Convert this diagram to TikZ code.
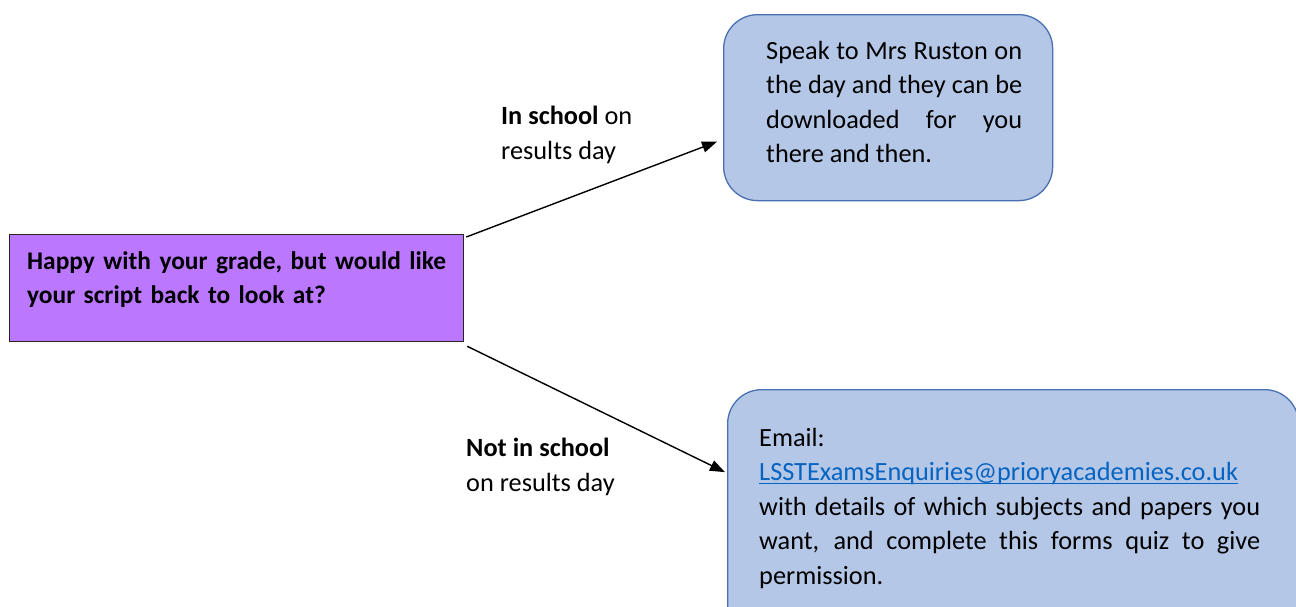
\documentclass[tikz,border=0pt]{standalone}
\usepackage{fontspec}
\setmainfont{Carlito}
\usetikzlibrary{arrows.meta}
\definecolor{purplefill}{RGB}{187,120,255}
\definecolor{bluefill}{RGB}{180,199,231}
\definecolor{blueline}{RGB}{74,111,176}
\definecolor{linkblue}{RGB}{5,99,193}
\newcommand\myulink[1]{\setbox0\hbox{#1}\rlap{\rule[-3.5pt]{\wd0}{1.2pt}}\box0}
\tikzset{
  txt/.style={inner sep=0pt, anchor=north west, font=\fontsize{26.3}{34.5}\selectfont},
  roundbox/.style={draw=blueline, fill=bluefill, line width=1.3pt, rounded corners=34pt, inner sep=0pt},
  qbox/.style={draw=black!85, fill=purplefill, line width=1.3pt, inner sep=0pt},
  arr/.style={line width=1.4pt, -{Triangle[length=15pt,width=11pt]}}
}
\begin{document}
\begin{tikzpicture}[x=1pt,y=1pt]
\useasboundingbox (0,0) rectangle (1296,-606);
\clip (0,0) rectangle (1296,-606);
% boxes
\node[qbox, minimum width=454pt, minimum height=107pt, anchor=north west] (q) at (9,-234) {};
\node[roundbox, minimum width=329pt, minimum height=186pt, anchor=north west] (a) at (723,-14) {};
\node[roundbox, minimum width=571pt, minimum height=251pt, anchor=north west] (b) at (727,-389) {};
% texts
\node[txt, text width=430pt, align=left, font=\bfseries\fontsize{25.4}{34.5}\selectfont] (qt) at (27,-251)
  {Happy with your grade, but would like\\your script back to look at?};
\node[txt, text width=256pt, align=justify] (at) at (766,-41)
  {\hyphenpenalty=10000 Speak to Mrs Ruston on\linebreak the day and they can be\linebreak downloaded for you\linebreak there and then.};
\node[txt, text width=501pt, align=justify] (bt) at (759,-428)
  {\hyphenpenalty=10000 Email:\\\textcolor{linkblue}{\myulink{LSSTExamsEnquiries@prioryacademies.co.uk}}\\with details of which subjects and papers you\linebreak want, and complete this forms quiz to give\linebreak permission.};
\node[txt, align=left] (la) at (501,-106) {\textbf{In school} on\\results day};
\node[txt, align=left] (lb) at (466,-438) {\textbf{Not in school}\\on results day};
% connectors
\coordinate (ea) at ([xshift=-6pt,yshift=-34pt]a.west);
\coordinate (eb) at ([xshift=-2pt,yshift=43pt]b.west);
\draw[arr] ([xshift=2pt,yshift=-3pt]q.north east) -- (ea);
\draw[arr] ([xshift=3pt,yshift=-4pt]q.south east) -- (eb);
\end{tikzpicture}
\end{document}
